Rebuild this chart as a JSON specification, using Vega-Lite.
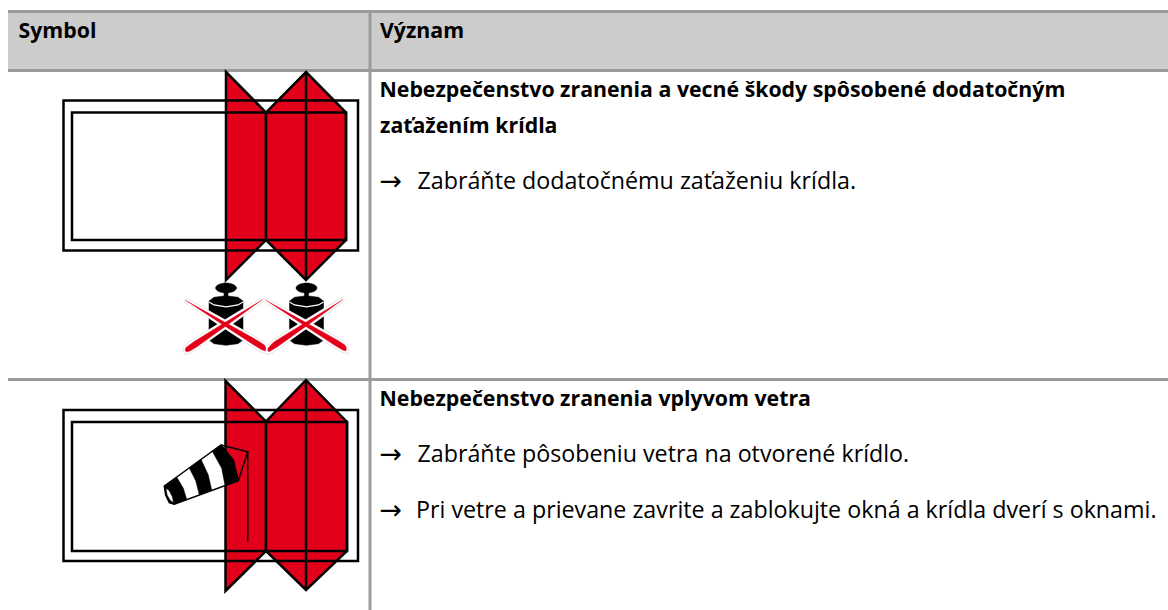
{
"$schema":"https://vega.github.io/schema/vega-lite/v6.json",
"width":1168,"height":610,"padding":0,
"autosize":{"type":"none"},
"background":"white",
"config":{"view":{"stroke":null}},
"datasets":{
"bands":[{"x":8,"x2":1168,"y":13,"y2":69}],
"rules":[
{"x":8,"x2":1168,"y":11.5,"y2":11.5},
{"x":8,"x2":1168,"y":70.5,"y2":70.5},
{"x":8,"x2":1168,"y":379.5,"y2":379.5},
{"x":370,"x2":370,"y":10,"y2":610}],
"panels":[
{"id":"r1a","i":0,"x":226,"y":72},{"id":"r1a","i":1,"x":266,"y":112.5},{"id":"r1a","i":2,"x":266,"y":240},{"id":"r1a","i":3,"x":226,"y":280},
{"id":"r1b","i":0,"x":306,"y":72},{"id":"r1b","i":1,"x":346,"y":112.5},{"id":"r1b","i":2,"x":346,"y":240},{"id":"r1b","i":3,"x":306,"y":280},{"id":"r1b","i":4,"x":266,"y":240},{"id":"r1b","i":5,"x":266,"y":112.5},
{"id":"r2a","i":0,"x":225.5,"y":381},{"id":"r2a","i":1,"x":266,"y":421.5},{"id":"r2a","i":2,"x":266,"y":551},{"id":"r2a","i":3,"x":225.5,"y":591},
{"id":"r2b","i":0,"x":306,"y":380},{"id":"r2b","i":1,"x":347,"y":422},{"id":"r2b","i":2,"x":347,"y":551},{"id":"r2b","i":3,"x":306,"y":590},{"id":"r2b","i":4,"x":266,"y":551},{"id":"r2b","i":5,"x":266,"y":421.5}],
"frames":[
{"id":"o1","i":0,"x":63.5,"y":100.5},{"id":"o1","i":1,"x":358,"y":100.5},{"id":"o1","i":2,"x":358,"y":250.5},{"id":"o1","i":3,"x":63.5,"y":250.5},
{"id":"n1","i":0,"x":72,"y":112.5},{"id":"n1","i":1,"x":346,"y":112.5},{"id":"n1","i":2,"x":346,"y":240},{"id":"n1","i":3,"x":72,"y":240},
{"id":"o2","i":0,"x":63.5,"y":410},{"id":"o2","i":1,"x":358,"y":410},{"id":"o2","i":2,"x":358,"y":561},{"id":"o2","i":3,"x":63.5,"y":561},
{"id":"n2","i":0,"x":72,"y":422},{"id":"n2","i":1,"x":347,"y":422},{"id":"n2","i":2,"x":347,"y":551},{"id":"n2","i":3,"x":72,"y":551}],
"folds":[
{"id":"f1","i":0,"x":306,"y":72},{"id":"f1","i":1,"x":306,"y":280},
{"id":"f2","i":0,"x":306,"y":380},{"id":"f2","i":1,"x":306,"y":590}],
"sockBody":[
{"i":0,"x":164.3,"y":486},{"i":1,"x":221,"y":445},{"i":2,"x":233.3,"y":460},{"i":3,"x":238.3,"y":480.7},{"i":4,"x":174.3,"y":504.3},{"i":5,"x":169.3,"y":502.7},{"i":6,"x":165.7,"y":495}],
"sockBands":[
{"id":"b1","i":0,"x":164.3,"y":486},{"id":"b1","i":1,"x":176.7,"y":477},{"id":"b1","i":2,"x":183.3,"y":488.3},{"id":"b1","i":3,"x":186.7,"y":499.3},{"id":"b1","i":4,"x":174.3,"y":504.3},{"id":"b1","i":5,"x":169.3,"y":502.7},{"id":"b1","i":6,"x":165.7,"y":495},
{"id":"b2","i":0,"x":189.3,"y":468},{"id":"b2","i":1,"x":201,"y":459.3},{"id":"b2","i":2,"x":208.3,"y":475},{"id":"b2","i":3,"x":211.7,"y":490},{"id":"b2","i":4,"x":199.3,"y":494.7},{"id":"b2","i":5,"x":195.7,"y":480.7},
{"id":"b3","i":0,"x":212.3,"y":451.3},{"id":"b3","i":1,"x":221,"y":445},{"id":"b3","i":2,"x":233.3,"y":460},{"id":"b3","i":3,"x":238.3,"y":480.7},{"id":"b3","i":4,"x":225,"y":485.7},{"id":"b3","i":5,"x":221.7,"y":468.3}],
"sockHole":[
{"i":0,"x":166.5,"y":489},{"i":1,"x":169,"y":491},{"i":2,"x":172,"y":497},{"i":3,"x":173,"y":502},{"i":4,"x":170.5,"y":500},{"i":5,"x":167.5,"y":495}],
"sockWire":[
{"id":"w","i":0,"x":221,"y":445},{"id":"w","i":1,"x":247.7,"y":451.7},{"id":"w","i":2,"x":238.3,"y":480.7},
{"id":"p","i":0,"x":247.7,"y":451.7},{"id":"p","i":1,"x":247.7,"y":541.7}],
"knobs":[
{"id":"k1","i":0,"x":215.5,"y":288},{"id":"k1","i":1,"x":218.6,"y":284.5},{"id":"k1","i":2,"x":226,"y":283},{"id":"k1","i":3,"x":233.4,"y":284.5},{"id":"k1","i":4,"x":236.5,"y":288},{"id":"k1","i":5,"x":233.4,"y":291.5},{"id":"k1","i":6,"x":226,"y":293},{"id":"k1","i":7,"x":218.6,"y":291.5},
{"id":"k2","i":0,"x":296,"y":288},{"id":"k2","i":1,"x":299.1,"y":284.5},{"id":"k2","i":2,"x":306.5,"y":283},{"id":"k2","i":3,"x":313.9,"y":284.5},{"id":"k2","i":4,"x":317,"y":288},{"id":"k2","i":5,"x":313.9,"y":291.5},{"id":"k2","i":6,"x":306.5,"y":293},{"id":"k2","i":7,"x":299.1,"y":291.5}],
"weights":[
{"id":"n1","i":0,"x":224,"y":290},{"id":"n1","i":1,"x":228,"y":290},{"id":"n1","i":2,"x":228,"y":298},{"id":"n1","i":3,"x":224,"y":298},
{"id":"n2","i":0,"x":304.5,"y":290},{"id":"n2","i":1,"x":308.5,"y":290},{"id":"n2","i":2,"x":308.5,"y":298},{"id":"n2","i":3,"x":304.5,"y":298},
{"id":"w1","i":0,"x":209,"y":301},{"id":"w1","i":1,"x":214,"y":297.3},{"id":"w1","i":2,"x":226,"y":295.7},{"id":"w1","i":3,"x":238,"y":297.3},{"id":"w1","i":4,"x":243,"y":301},{"id":"w1","i":5,"x":243,"y":340},{"id":"w1","i":6,"x":238,"y":343.7},{"id":"w1","i":7,"x":226,"y":345.3},{"id":"w1","i":8,"x":214,"y":343.7},{"id":"w1","i":9,"x":209,"y":340},
{"id":"w2","i":0,"x":289.5,"y":301},{"id":"w2","i":1,"x":294.5,"y":297.3},{"id":"w2","i":2,"x":306.5,"y":295.7},{"id":"w2","i":3,"x":318.5,"y":297.3},{"id":"w2","i":4,"x":323.5,"y":301},{"id":"w2","i":5,"x":323.5,"y":340},{"id":"w2","i":6,"x":318.5,"y":343.7},{"id":"w2","i":7,"x":306.5,"y":345.3},{"id":"w2","i":8,"x":294.5,"y":343.7},{"id":"w2","i":9,"x":289.5,"y":340}],
"weightArcs":[
{"id":"a1","i":0,"x":209,"y":302},{"id":"a1","i":1,"x":214,"y":305},{"id":"a1","i":2,"x":226,"y":306.8},{"id":"a1","i":3,"x":238,"y":305},{"id":"a1","i":4,"x":243,"y":302},
{"id":"a2","i":0,"x":289.5,"y":302},{"id":"a2","i":1,"x":294.5,"y":305},{"id":"a2","i":2,"x":306.5,"y":306.8},{"id":"a2","i":3,"x":318.5,"y":305},{"id":"a2","i":4,"x":323.5,"y":302}],
"crosses":[
{"id":"c1","i":0,"x":262.5,"y":299.5},{"id":"c1","i":1,"x":226,"y":326},{"id":"c1","i":2,"x":196.7,"y":347},{"id":"c1","i":3,"x":190,"y":351},{"id":"c1","i":4,"x":186.5,"y":352},{"id":"c1","i":5,"x":185,"y":350},{"id":"c1","i":6,"x":186,"y":347.5},{"id":"c1","i":7,"x":193.3,"y":342},{"id":"c1","i":8,"x":224,"y":323},
{"id":"c2","i":0,"x":185,"y":300},{"id":"c2","i":1,"x":226.4,"y":323},{"id":"c2","i":2,"x":257.5,"y":340.4},{"id":"c2","i":3,"x":264.5,"y":345},{"id":"c2","i":4,"x":266,"y":348},{"id":"c2","i":5,"x":265.5,"y":351},{"id":"c2","i":6,"x":262,"y":350},{"id":"c2","i":7,"x":254.5,"y":345.6},{"id":"c2","i":8,"x":224.6,"y":326},
{"id":"c3","i":0,"x":343,"y":299.5},{"id":"c3","i":1,"x":306.5,"y":326},{"id":"c3","i":2,"x":277.2,"y":347},{"id":"c3","i":3,"x":270.5,"y":351},{"id":"c3","i":4,"x":269,"y":352},{"id":"c3","i":5,"x":267.5,"y":350},{"id":"c3","i":6,"x":268.5,"y":347.5},{"id":"c3","i":7,"x":273.8,"y":342},{"id":"c3","i":8,"x":304.5,"y":323},
{"id":"c4","i":0,"x":265.5,"y":300},{"id":"c4","i":1,"x":306.9,"y":323},{"id":"c4","i":2,"x":338,"y":340.4},{"id":"c4","i":3,"x":345,"y":345},{"id":"c4","i":4,"x":346.5,"y":348},{"id":"c4","i":5,"x":346,"y":351},{"id":"c4","i":6,"x":342.5,"y":350},{"id":"c4","i":7,"x":335,"y":345.6},{"id":"c4","i":8,"x":305.1,"y":326}],
"bold":[
{"x":18.5,"y":38,"t":"Symbol"},
{"x":380,"y":38,"t":"Význam"},
{"x":379.5,"y":97,"t":"Nebezpečenstvo zranenia a vecné škody spôsobené dodatočným"},
{"x":380,"y":132.5,"t":"zaťažením krídla"},
{"x":379.5,"y":406,"t":"Nebezpečenstvo zranenia vplyvom vetra"}],
"regular":[
{"x":417.5,"y":189,"t":"Zabráňte dodatočnému zaťaženiu krídla."},
{"x":417.5,"y":462,"t":"Zabráňte pôsobeniu vetra na otvorené krídlo."},
{"x":416,"y":517.5,"t":"Pri vetre a prievane zavrite a zablokujte okná a krídla dverí s oknami."}],
"arrows":[
{"x":379.5,"y":189.5,"t":"→"},{"x":379.5,"y":463,"t":"→"},{"x":379.5,"y":518.5,"t":"→"}]
},
"encoding":{
"x":{"field":"x","type":"quantitative","scale":{"domain":[0,1168],"nice":false,"zero":false},"axis":null},
"y":{"field":"y","type":"quantitative","scale":{"domain":[610,0],"nice":false,"zero":false},"axis":null}
},
"layer":[
{"data":{"name":"bands"},"mark":{"type":"rect","fill":"#cccccc"},"encoding":{"x2":{"field":"x2"},"y2":{"field":"y2"}}},
{"data":{"name":"rules"},"mark":{"type":"rule","stroke":"#9b9b9b","strokeWidth":3},"encoding":{"x2":{"field":"x2"},"y2":{"field":"y2"}}},
{"data":{"name":"panels"},"mark":{"type":"line","interpolate":"linear-closed","fill":"#e2001a","stroke":"#000000","strokeWidth":2.5},"encoding":{"detail":{"field":"id"},"order":{"field":"i"}}},
{"data":{"name":"frames"},"mark":{"type":"line","interpolate":"linear-closed","stroke":"#000000","strokeWidth":2.5},"encoding":{"detail":{"field":"id"},"order":{"field":"i"}}},
{"data":{"name":"folds"},"mark":{"type":"line","stroke":"#000000","strokeWidth":2.5},"encoding":{"detail":{"field":"id"},"order":{"field":"i"}}},
{"data":{"name":"sockBody"},"mark":{"type":"line","interpolate":"linear-closed","fill":"#ffffff","stroke":"#000000","strokeWidth":1.5},"encoding":{"order":{"field":"i"}}},
{"data":{"name":"sockBands"},"mark":{"type":"line","interpolate":"linear-closed","fill":"#000000","stroke":"#000000","strokeWidth":0.5},"encoding":{"detail":{"field":"id"},"order":{"field":"i"}}},
{"data":{"name":"sockHole"},"mark":{"type":"line","interpolate":"linear-closed","fill":"#ffffff","stroke":"#ffffff","strokeWidth":0.3},"encoding":{"order":{"field":"i"}}},
{"data":{"name":"sockWire"},"mark":{"type":"line","stroke":"#000000","strokeWidth":1.5},"encoding":{"detail":{"field":"id"},"order":{"field":"i"}}},
{"data":{"name":"knobs"},"mark":{"type":"line","interpolate":"cardinal-closed","fill":"#000000","stroke":"#000000","strokeWidth":0.5},"encoding":{"detail":{"field":"id"},"order":{"field":"i"}}},
{"data":{"name":"weights"},"mark":{"type":"line","interpolate":"linear-closed","fill":"#000000","stroke":"#000000","strokeWidth":0.5},"encoding":{"detail":{"field":"id"},"order":{"field":"i"}}},
{"data":{"name":"weightArcs"},"mark":{"type":"line","stroke":"#ffffff","strokeWidth":1.3},"encoding":{"detail":{"field":"id"},"order":{"field":"i"}}},
{"data":{"name":"crosses"},"mark":{"type":"line","interpolate":"linear-closed","stroke":"#d4d4d4","strokeWidth":5,"strokeJoin":"miter","strokeMiterLimit":12},"encoding":{"detail":{"field":"id"},"order":{"field":"i"}}},
{"data":{"name":"crosses"},"mark":{"type":"line","interpolate":"linear-closed","stroke":"#ffffff","strokeWidth":4,"strokeJoin":"miter","strokeMiterLimit":12},"encoding":{"detail":{"field":"id"},"order":{"field":"i"}}},
{"data":{"name":"crosses"},"mark":{"type":"line","interpolate":"linear-closed","fill":"#e2001a","stroke":"#e2001a","strokeWidth":0.3},"encoding":{"detail":{"field":"id"},"order":{"field":"i"}}},
{"data":{"name":"bold"},"mark":{"type":"text","align":"left","baseline":"alphabetic","font":"Open Sans","fontWeight":"bold","fontSize":21.3,"fill":"#000000"},"encoding":{"text":{"field":"t"}}},
{"data":{"name":"regular"},"mark":{"type":"text","align":"left","baseline":"alphabetic","font":"Open Sans","fontSize":23.25,"fill":"#000000"},"encoding":{"text":{"field":"t"}}},
{"data":{"name":"arrows"},"mark":{"type":"text","align":"left","baseline":"alphabetic","font":"DejaVu Sans","fontSize":27,"fill":"#000000"},"encoding":{"text":{"field":"t"}}}
]
}
